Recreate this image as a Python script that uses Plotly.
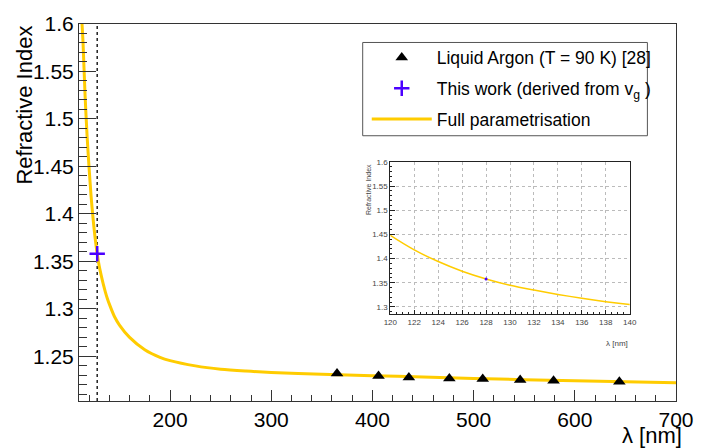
import plotly.graph_objects as go

# ---- data ----
lar_wl = [365, 406, 436, 476, 509, 546, 579, 644]
lar_n = [1.2319, 1.2292, 1.2278, 1.2268, 1.2262, 1.2251, 1.2244, 1.2234]

this_wl = [128]
this_n = [1.358]

curve_wl = [113, 114, 116, 118, 120, 122, 124, 126, 128, 130, 132, 134, 136, 138, 140,
            145, 150, 160, 175, 190, 200, 225, 250, 275, 300, 350, 400, 450, 500,
            550, 600, 650, 700]
curve_n = [1.600, 1.580, 1.525, 1.482, 1.448, 1.418, 1.394, 1.374, 1.358, 1.345, 1.335,
           1.326, 1.318, 1.311, 1.305, 1.292, 1.283, 1.270, 1.2570, 1.2490, 1.2455,
           1.2400, 1.2365, 1.2345, 1.2330, 1.2312, 1.2297, 1.2282, 1.2268, 1.2254,
           1.2243, 1.2232, 1.2221]

x_ticks = [200, 300, 400, 500, 600, 700]
y_ticks = [1.25, 1.3, 1.35, 1.4, 1.45, 1.5, 1.55, 1.6]
y_ticktext = ["1.25", "1.3", "1.35", "1.4", "1.45", "1.5", "1.55", "1.6"]
inset_x_ticks = [120, 122, 124, 126, 128, 130, 132, 134, 136, 138, 140]
inset_y_ticks = [1.3, 1.35, 1.4, 1.45, 1.5, 1.55, 1.6]
inset_y_ticktext = ["1.3", "1.35", "1.4", "1.45", "1.5", "1.55", "1.6"]

FONT = "Liberation Sans, Arial, Helvetica, sans-serif"
YELLOW = "#FFCC00"
BLUE = "#4B00FF"

fig = go.Figure()

# main plot: curve first so that markers sit on top
fig.add_trace(go.Scatter(x=curve_wl, y=curve_n, mode="lines", name="Full parametrisation",
                         line=dict(color=YELLOW, width=3, shape="spline", smoothing=0.8),
                         legendgroup="c", legendrank=3, xaxis="x", yaxis="y"))
fig.add_trace(go.Scatter(x=lar_wl, y=lar_n, mode="markers", name="Liquid Argon (T = 90 K) [28]",
                         marker=dict(symbol="triangle-up", size=11, color="black"),
                         legendgroup="a", legendrank=1, xaxis="x", yaxis="y"))
fig.add_trace(go.Scatter(x=this_wl, y=this_n, mode="markers",
                         name="This work (derived from v<sub>g</sub> )",
                         marker=dict(symbol="cross-thin", size=11, color=BLUE,
                                     line=dict(color=BLUE, width=2.5)),
                         legendgroup="b", legendrank=2, xaxis="x", yaxis="y"))

# inset
fig.add_trace(go.Scatter(x=curve_wl, y=curve_n, mode="lines", showlegend=False,
                         line=dict(color=YELLOW, width=1.5, shape="spline", smoothing=0.8),
                         xaxis="x2", yaxis="y2"))
fig.add_trace(go.Scatter(x=this_wl, y=this_n, mode="markers", showlegend=False,
                         marker=dict(symbol="circle", size=3, color=BLUE),
                         xaxis="x2", yaxis="y2"))

# vertical dotted lines at the measured wavelength
fig.add_shape(type="line", xref="x", yref="y domain", x0=this_wl[0], x1=this_wl[0], y0=0, y1=1,
              line=dict(color="#222", width=1.5, dash="dot"), layer="below")
fig.add_shape(type="line", xref="x2", yref="y2 domain", x0=this_wl[0], x1=this_wl[0], y0=0, y1=1,
              line=dict(color="#333", width=1, dash="dot"), layer="below")
# legend frame
fig.add_shape(type="rect", xref="paper", yref="paper", x0=0.4752, x1=0.9521, y0=0.7036, y1=0.951,
              line=dict(color="#555", width=1), fillcolor="white", layer="above")

axis_common = dict(showgrid=False, zeroline=False, showline=True, linecolor="#333",
                   linewidth=1, mirror=True, ticks="inside", tickcolor="#333",
                   tickfont=dict(family=FONT, size=21, color="black"))

fig.update_layout(
    width=706, height=448,
    margin=dict(l=79, r=21, t=13, b=47),
    paper_bgcolor="white", plot_bgcolor="white",
    showlegend=True,
    xaxis=dict(range=[110, 700], tickmode="array", tickvals=x_ticks, ticklen=11,
               minor=dict(dtick=20, tick0=0, ticklen=6, ticks="inside", tickcolor="#333"),
               domain=[0, 1], **axis_common),
    yaxis=dict(range=[1.203, 1.6], tickmode="array", tickvals=y_ticks, ticktext=y_ticktext,
               ticklen=17, ticklabelposition="outside",
               minor=dict(dtick=0.01, tick0=0, ticklen=8, ticks="inside", tickcolor="#333"),
               domain=[0, 1], **axis_common),
    xaxis2=dict(range=[120, 140], tickmode="array", tickvals=inset_x_ticks, anchor="y2",
                domain=[0.5215, 0.9224], showgrid=True, gridcolor="#bbb", griddash="dot",
                gridwidth=1, zeroline=False, showline=True, linecolor="#222", mirror=True,
                ticks="inside", ticklen=4, tickcolor="#222",
                minor=dict(dtick=0.5, ticklen=2, ticks="inside", tickcolor="#222"),
                tickfont=dict(family=FONT, size=8, color="#444")),
    yaxis2=dict(range=[1.285, 1.6], tickmode="array", tickvals=inset_y_ticks,
                ticktext=inset_y_ticktext, anchor="x2",
                domain=[0.2302, 0.634], showgrid=True, gridcolor="#bbb", griddash="dot",
                gridwidth=1, zeroline=False, showline=True, linecolor="#222", mirror=True,
                ticks="inside", ticklen=5, tickcolor="#222",
                minor=dict(dtick=0.01, ticklen=2, ticks="inside", tickcolor="#222"),
                tickfont=dict(family=FONT, size=8, color="#444")),
    legend=dict(x=0.482, y=0.9585, xanchor="left", yanchor="top",
                bgcolor="rgba(0,0,0,0)", borderwidth=0,
                font=dict(family=FONT, size=17.5, color="black"),
                tracegroupgap=5, itemwidth=60, traceorder="grouped"),
    annotations=[
        dict(text="Refractive Index", xref="paper", yref="paper", x=-0.092, y=1.0,
             xanchor="center", yanchor="top", textangle=-90, showarrow=False,
             font=dict(family=FONT, size=22, color="black")),
        dict(text="λ [nm]", xref="paper", yref="paper", x=1.013, y=-0.052,
             xanchor="right", yanchor="top", showarrow=False,
             font=dict(family=FONT, size=22, color="black")),
        dict(text="Refractive Index", xref="paper", yref="paper", x=0.485, y=0.634,
             xanchor="center", yanchor="top", textangle=-90, showarrow=False,
             font=dict(family=FONT, size=7, color="#444")),
        dict(text="λ [nm]", xref="paper", yref="paper", x=0.9224, y=0.17,
             xanchor="right", yanchor="top", showarrow=False,
             font=dict(family=FONT, size=8, color="#444")),
    ],
)

fig.write_html("out.html")
